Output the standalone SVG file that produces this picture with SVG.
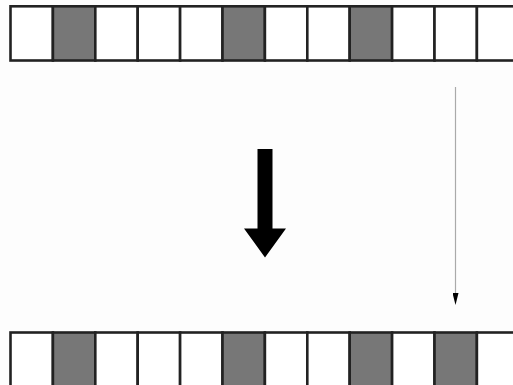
<svg xmlns="http://www.w3.org/2000/svg" width="513" height="385" viewBox="0 0 513 385">
<style>
.c{fill:#ffffff;stroke:#222;stroke-width:2.6}
.g{fill:#777777;stroke:#222;stroke-width:2.6}
</style>
<defs>
<marker id="ah" markerWidth="12" markerHeight="6" refX="0" refY="3" orient="auto" markerUnits="userSpaceOnUse" viewBox="0 0 12 6">
<path d="M0,0 L12,3 L0,6 Z" fill="#000"/>
</marker>
</defs>
<rect width="513" height="385" fill="#fdfdfd"/>
<g id="top-row">
<rect id="t1" class="c" x="10.5" y="6.3" width="42.4" height="54.2"/>
<rect id="t2" class="g" x="52.9" y="6.3" width="42.4" height="54.2"/>
<rect id="t3" class="c" x="95.3" y="6.3" width="42.4" height="54.2"/>
<rect id="t4" class="c" x="137.7" y="6.3" width="42.4" height="54.2"/>
<rect id="t5" class="c" x="180.1" y="6.3" width="42.4" height="54.2"/>
<rect id="t6" class="g" x="222.5" y="6.3" width="42.4" height="54.2"/>
<rect id="t7" class="c" x="264.9" y="6.3" width="42.4" height="54.2"/>
<rect id="t8" class="c" x="307.3" y="6.3" width="42.4" height="54.2"/>
<rect id="t9" class="g" x="349.7" y="6.3" width="42.4" height="54.2"/>
<rect id="t10" class="c" x="392.1" y="6.3" width="42.4" height="54.2"/>
<rect id="t11" class="c" x="434.5" y="6.3" width="42.4" height="54.2"/>
<rect id="t12" class="c" x="476.9" y="6.3" width="42.4" height="54.2"/>
</g>
<g id="bottom-row">
<rect id="b1" class="c" x="10.5" y="332.5" width="42.4" height="54.2"/>
<rect id="b2" class="g" x="52.9" y="332.5" width="42.4" height="54.2"/>
<rect id="b3" class="c" x="95.3" y="332.5" width="42.4" height="54.2"/>
<rect id="b4" class="c" x="137.7" y="332.5" width="42.4" height="54.2"/>
<rect id="b5" class="c" x="180.1" y="332.5" width="42.4" height="54.2"/>
<rect id="b6" class="g" x="222.5" y="332.5" width="42.4" height="54.2"/>
<rect id="b7" class="c" x="264.9" y="332.5" width="42.4" height="54.2"/>
<rect id="b8" class="c" x="307.3" y="332.5" width="42.4" height="54.2"/>
<rect id="b9" class="g" x="349.7" y="332.5" width="42.4" height="54.2"/>
<rect id="b10" class="c" x="392.1" y="332.5" width="42.4" height="54.2"/>
<rect id="b11" class="g" x="434.5" y="332.5" width="42.4" height="54.2"/>
<rect id="b12" class="c" x="476.9" y="332.5" width="42.4" height="54.2"/>
</g>
<g id="connectors">
<path id="big-arrow" d="M257.5,149 L272.5,149 L272.5,228.5 L286,228.5 L265,257.5 L244,228.5 L257.5,228.5 Z" fill="#000"/>
<line id="thin-arrow" x1="455.5" y1="87" x2="455.5" y2="293" stroke="#aaa" stroke-width="1.2" marker-end="url(#ah)"/>
</g>
</svg>
